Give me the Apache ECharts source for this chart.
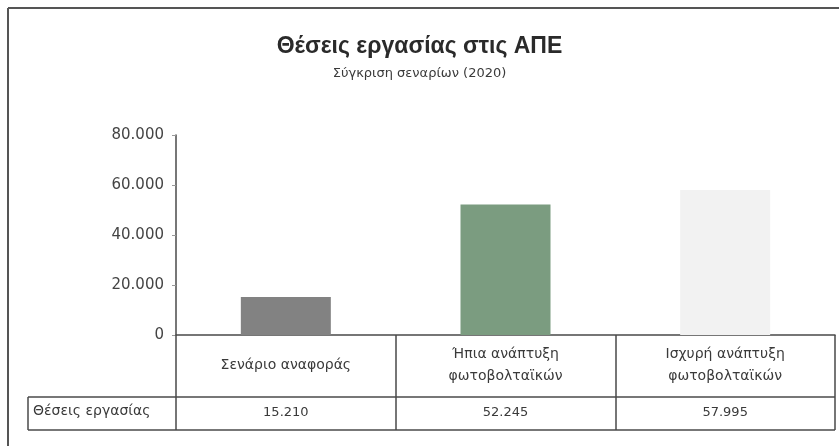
<!DOCTYPE html>
<html>
<head>
<meta charset="utf-8">
<script src="https://cdn.jsdelivr.net/npm/echarts@6/dist/echarts.min.js"></script>
<style>
  html, body { margin: 0; padding: 0; background: #ffffff; }
  #chart { width: 839px; height: 446px; }
</style>
</head>
<body>
<div id="chart"></div>
<script>
// Scenario categories and job counts
const categories = [
  'Σενάριο αναφοράς',
  'Ήπια ανάπτυξη\nφωτοβολταϊκών',
  'Ισχυρή ανάπτυξη\nφωτοβολταϊκών'
];
const jobs = [15210, 52245, 57995];
const barColors = ['#828282', '#7b9c80', '#f2f2f2'];
const yTicks = [0, 20000, 40000, 60000, 80000];
const rowLabel = 'Θέσεις εργασίας';

const fmt = v => String(v).replace(/\B(?=(\d{3})+(?!\d))/g, '.');

const FONT = '"DejaVu Sans", "Liberation Sans", sans-serif';
const TEXT = '#3a3a3a';
const LINE = '#4a4a4a';

const chart = echarts.init(document.getElementById('chart'), null, { renderer: 'canvas' });

chart.setOption({
  backgroundColor: '#ffffff',
  animation: false,
  title: {
    text: 'Θέσεις εργασίας στις ΑΠΕ',
    subtext: 'Σύγκριση σεναρίων (2020)',
    left: 'center',
    top: 30,
    itemGap: 9,
    textStyle: { fontFamily: '"Liberation Sans", sans-serif', fontSize: 23, fontWeight: 'bold', color: '#2a2a2a' },
    subtextStyle: { fontFamily: FONT, fontSize: 13, color: TEXT }
  },
  grid: { left: 176, right: 4, top: 135, bottom: 111, containLabel: false },
  xAxis: [
    {
      type: 'category',
      data: categories,
      position: 'bottom',
      axisLine: { show: true, lineStyle: { color: LINE, width: 1.5 } },
      axisTick: { show: true, length: 95, lineStyle: { color: LINE, width: 1.5 } },
      axisLabel: { fontFamily: FONT, fontSize: 14, color: TEXT, lineHeight: 22, margin: 30, verticalAlign: 'middle' }
    },
    {
      type: 'category',
      data: jobs.map(fmt),
      position: 'bottom',
      offset: 62,
      axisLine: { show: false },
      axisTick: { show: false },
      axisLabel: { fontFamily: FONT, fontSize: 13, color: TEXT, margin: 9 }
    }
  ],
  yAxis: {
    type: 'value',
    min: yTicks[0],
    max: yTicks[yTicks.length - 1],
    interval: yTicks[1] - yTicks[0],
    axisLine: { show: true, lineStyle: { color: LINE, width: 1.5 } },
    axisTick: { show: true, length: 4, lineStyle: { color: '#999' } },
    splitLine: { show: false },
    axisLabel: { fontFamily: FONT, fontSize: 15, color: '#444', margin: 12, formatter: fmt }
  },
  series: [{
    type: 'bar',
    xAxisIndex: 0,
    data: jobs.map((v, i) => ({ value: v, itemStyle: { color: barColors[i] } })),
    barWidth: 90
  }],
  graphic: [
    // outer frame (top and left edges)
    { type: 'line', shape: { x1: 8, y1: 8, x2: 839, y2: 8 }, style: { stroke: '#555', lineWidth: 2 } },
    { type: 'line', shape: { x1: 8, y1: 8, x2: 8, y2: 446 }, style: { stroke: '#555', lineWidth: 2 } },
    // data table rules
    { type: 'line', shape: { x1: 28, y1: 397, x2: 835, y2: 397 }, style: { stroke: LINE, lineWidth: 1.5 } },
    { type: 'line', shape: { x1: 28, y1: 430, x2: 835, y2: 430 }, style: { stroke: LINE, lineWidth: 1.5 } },
    { type: 'line', shape: { x1: 28, y1: 397, x2: 28, y2: 430 }, style: { stroke: LINE, lineWidth: 1.5 } },
    {
      type: 'text', left: 33, top: 404,
      style: { text: rowLabel, font: '14px ' + FONT, fill: TEXT }
    }
  ]
});
</script>
</body>
</html>
